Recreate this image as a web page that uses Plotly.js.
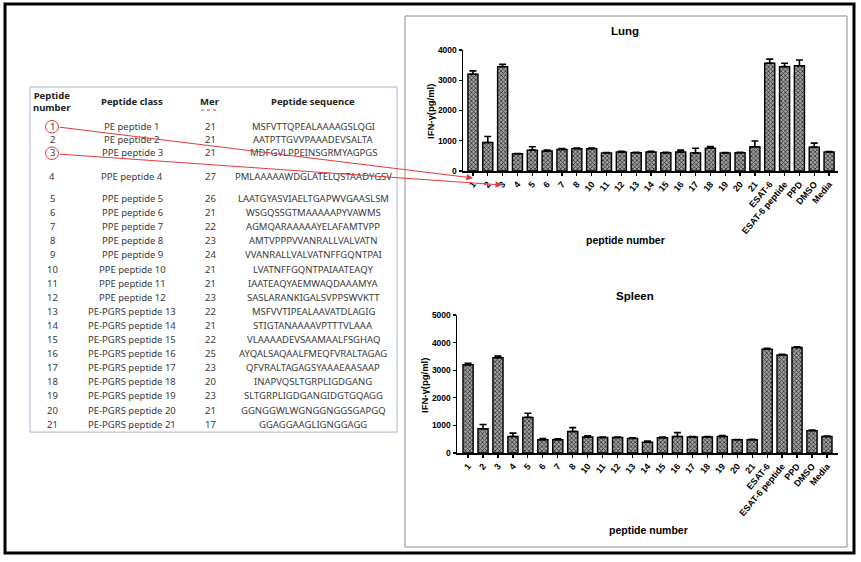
<!DOCTYPE html>
<html>
<head>
<meta charset="utf-8">
<script src="https://cdn.plot.ly/plotly-3.0.1.min.js"></script>
<style>html,body{margin:0;padding:0;background:#fff;}#chart{width:861px;height:562px;}</style>
</head>
<body>
<div id="chart"></div>
<script>
// ---------- data ----------
const categories = ['1','2','3','4','5','6','7','8','10','11','12','13','14','15','16','17','18','19','20','21','ESAT-6','ESAT-6 peptide','PPD','DMSO','Media'];
const lungValues  = [3200, 940, 3450, 570, 690, 660, 710, 740, 740, 600, 630, 605, 630, 605, 630, 600, 750, 600, 605, 800, 3560, 3450, 3480, 790, 630];
const lungErrors  = [110, 200, 80, 10, 110, 30, 30, 20, 20, 10, 20, 10, 20, 10, 60, 150, 55, 10, 10, 190, 140, 110, 190, 130, 10];
const spleenValues = [3200, 880, 3450, 600, 1290, 480, 480, 780, 580, 560, 560, 530, 390, 550, 600, 580, 580, 600, 480, 480, 3760, 3550, 3820, 810, 600];
const spleenErrors = [50, 150, 60, 120, 150, 40, 30, 140, 40, 20, 20, 20, 40, 30, 140, 20, 20, 30, 10, 20, 30, 30, 30, 20, 10];
const lungTicks = [0, 1000, 2000, 3000, 4000];
const spleenTicks = [0, 1000, 2000, 3000, 4000, 5000];

const tableHeader = ['Peptide<br>number', 'Peptide class', 'Mer', 'Peptide sequence'];
const peptideNumbers = ['1','2','3','4','5','6','7','8','9','10','11','12','13','14','15','16','17','18','19','20','21'];
const peptideClasses = ['PE peptide 1','PE peptide 2','PPE peptide 3','PPE peptide 4','PPE peptide 5','PPE peptide 6','PPE peptide 7','PPE peptide 8','PPE peptide 9','PPE peptide 10','PPE peptide 11','PPE peptide 12','PE-PGRS peptide 13','PE-PGRS peptide 14','PE-PGRS peptide 15','PE-PGRS peptide 16','PE-PGRS peptide 17','PE-PGRS peptide 18','PE-PGRS peptide 19','PE-PGRS peptide 20','PE-PGRS peptide 21'];
const mers = ['21','21','21','27','26','21','22','23','24','21','21','23','22','21','22','25','23','20','23','21','17'];
const sequences = ['MSFVTTQPEALAAAAGSLQGI','AATPTTGVVPAAADEVSALTA','MDFGVLPPEINSGRMYAGPGS','PMLAAAAAWDGLATELQSTAADYGSV','LAATGYASVIAELTGAPWVGAASLSM','WSGQSSGTMAAAAAPYVAWMS','AGMQARAAAAAYELAFAMTVPP','AMTVPPPVVANRALLVALVATN','VVANRALLVALVATNFFGQNTPAI','LVATNFFGQNTPAIAATEAQY','IAATEAQYAEMWAQDAAAMYA','SASLARANKIGALSVPPSWVKTT','MSFVVTIPEALAAVATDLAGIG','STIGTANAAAAVPTTTVLAAA','VLAAAADEVSAAMAALFSGHAQ','AYQALSAQAALFMEQFVRALTAGAG','QFVRALTAGAGSYAAAEAASAAP','INAPVQSLTGRPLIGDGANG','SLTGRPLIGDGANGIDGTGQAGG','GGNGGWLWGNGGNGGSGAPGQ','GGAGGAAGLIGNGGAGG'];

// ---------- geometry helpers (pixels -> paper) ----------
const W = 861, H = 562;
const X = px => px / W;
const Y = py => 1 - py / H;

const barPattern = {shape: 'x', fgcolor: '#2a2a2a', bgcolor: '#a2a2a2', size: 3, solidity: 0.45, fillmode: 'replace'};
function barTrace(vals, errs, xa, ya) {
  return {
    type: 'bar', x: categories, y: vals, xaxis: xa, yaxis: ya, width: 0.68,
    marker: {color: '#7a7a7a', pattern: barPattern, line: {color: '#000', width: 1.4}},
    error_y: {type: 'data', symmetric: false, array: errs, arrayminus: errs.map(() => 0), color: '#000', thickness: 1.6, width: 3.5},
    hoverinfo: 'x+y'
  };
}

const tickFont = {family: 'Liberation Sans, Arial, sans-serif', size: 9, color: '#000', weight: 'bold'};
function xAxis(domain, range, anchor) {
  return {domain: domain, anchor: anchor, type: 'category', range: range, showline: true, linecolor: '#000', linewidth: 1.5,
    ticks: 'outside', ticklen: 3, tickwidth: 1.2, tickcolor: '#000', tickangle: -50, tickfont: tickFont,
    tickmode: 'array', tickvals: categories, ticktext: categories,
    showgrid: false, zeroline: false, fixedrange: true};
}
function yAxis(domain, range, ticks, anchor) {
  return {domain: domain, anchor: anchor, range: range, showline: true, linecolor: '#000', linewidth: 1.5,
    ticks: 'outside', ticklen: 3, tickwidth: 1.2, tickcolor: '#000', tickfont: Object.assign({}, tickFont, {size: 8.5}),
    tickmode: 'array', tickvals: ticks, showgrid: false, zeroline: false, fixedrange: true};
}

const titleFont = {family: 'Liberation Sans, Arial, sans-serif', size: 11.5, color: '#000', weight: 'bold'};
const axTitleFont = {family: 'Liberation Sans, Arial, sans-serif', size: 10.5, color: '#000', weight: 'bold'};
const yTitleFont = {family: 'Liberation Sans, Arial, sans-serif', size: 9.5, color: '#000', weight: 'bold'};
const tblFont = {family: 'Noto Sans, sans-serif', size: 9.5, color: '#3a3a3a'};
const tblHeadFont = {family: 'Noto Sans, sans-serif', size: 9.5, color: '#222', weight: 'bold'};

const annotations = [];
function txt(t, px, py, font, extra) {
  annotations.push(Object.assign({text: t, x: X(px), y: Y(py), xref: 'paper', yref: 'paper', showarrow: false,
    xanchor: 'center', yanchor: 'middle', font: font}, extra || {}));
}
// chart titles
txt('Lung', 625, 31, titleFont);
txt('Spleen', 635, 296, titleFont);
txt('peptide number', 625, 240, axTitleFont);
txt('peptide number', 648, 530, axTitleFont);
txt('IFN-γ(pg/ml)', 430, 112, yTitleFont, {textangle: -90});
txt('IFN-γ(pg/ml)', 424, 386, yTitleFont, {textangle: -90});

// table
const colX = [52, 132, 210, 313];
for (let c = 0; c < 4; c++) txt(tableHeader[c], colX[c], 102, tblHeadFont);
const rowY = [];
for (let i = 0; i < peptideNumbers.length; i++) {
  let y;
  if (i < 3) y = 126.5 + i * 13;
  else if (i === 3) y = 176;
  else y = 198.5 + (i - 4) * 14.1;
  rowY.push(y);
}
for (let i = 0; i < peptideNumbers.length; i++) {
  txt(peptideNumbers[i], colX[0], rowY[i], tblFont);
  txt(peptideClasses[i], colX[1], rowY[i], tblFont);
  txt(mers[i], colX[2], rowY[i], tblFont);
  txt(sequences[i], colX[3], rowY[i], tblFont);
}
const tableBottom = rowY[rowY.length - 1] + 8;

// red arrows from table to Lung tick labels
const red = '#e23a3a';
function arrow(x0, y0, x1, y1) {
  annotations.push({text: '', x: X(x1), y: Y(y1), xref: 'paper', yref: 'paper', ax: X(x0), ay: Y(y0),
    axref: 'paper', ayref: 'paper', showarrow: true, arrowhead: 2, arrowsize: 1.3, arrowwidth: 1, arrowcolor: red, standoff: 0, startstandoff: 0});
}
arrow(58, 127, 473, 178);
arrow(58, 154, 502, 185);

const shapes = [
  {type: 'rect', xref: 'paper', yref: 'paper', x0: X(5), x1: X(854), y0: Y(553), y1: Y(4), line: {color: '#000', width: 3}},
  {type: 'rect', xref: 'paper', yref: 'paper', x0: X(405), x1: X(847), y0: Y(547), y1: Y(16), line: {color: '#8a8a8a', width: 1}},
  {type: 'rect', xref: 'paper', yref: 'paper', x0: X(30), x1: X(397), y0: Y(tableBottom), y1: Y(87), line: {color: '#a8b8cc', width: 1}},
  {type: 'circle', xref: 'paper', yref: 'paper', x0: X(45.5), x1: X(58.5), y0: Y(133), y1: Y(120.5), line: {color: red, width: 1}},
  {type: 'circle', xref: 'paper', yref: 'paper', x0: X(45.5), x1: X(58.5), y0: Y(159.5), y1: Y(147), line: {color: red, width: 1}},
  {type: 'line', xref: 'paper', yref: 'paper', x0: X(201), x1: X(219), y0: Y(110), y1: Y(110), line: {color: red, width: 1, dash: 'dot'}}
];

const data = [
  barTrace(lungValues, lungErrors, 'x', 'y'),
  barTrace(spleenValues, spleenErrors, 'x2', 'y2')
];

const layout = {
  width: W, height: H, margin: {l: 0, r: 0, t: 0, b: 0}, paper_bgcolor: '#fff', plot_bgcolor: 'rgba(0,0,0,0)',
  showlegend: false,
  xaxis: xAxis([X(463), X(838)], [-0.67, 24.6], 'y'),
  yaxis: yAxis([Y(171), Y(50)], [0, 4000], lungTicks, 'x'),
  xaxis2: xAxis([X(457), X(838)], [-0.74, 24.74], 'y2'),
  yaxis2: yAxis([Y(453), Y(315)], [0, 5000], spleenTicks, 'x2'),
  annotations: annotations, shapes: shapes
};

Plotly.newPlot('chart', data, layout, {displayModeBar: false, staticPlot: true});
</script>
</body>
</html>
